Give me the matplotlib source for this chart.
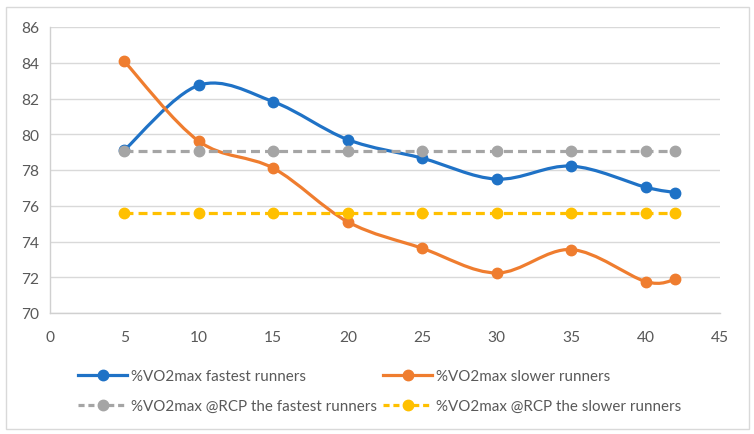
import matplotlib
matplotlib.use("Agg")
import matplotlib.pyplot as plt
from matplotlib.path import Path
from matplotlib.patches import PathPatch, Rectangle
from matplotlib.lines import Line2D
import numpy as np

plt.rcParams['font.family'] = ['Lato', 'DejaVu Sans']

# ---- data ----
distance_km = [5, 10, 15, 20, 25, 30, 35, 40, 42]
fastest = [79.12, 82.74, 81.82, 79.70, 78.66, 77.49, 78.22, 77.04, 76.74]
slower = [84.07, 79.61, 78.10, 75.10, 73.62, 72.24, 73.55, 71.76, 71.88]
rcp_fastest = [79.05] * 9
rcp_slower = [75.57] * 9
labels = ["%VO2max fastest runners", "%VO2max slower runners",
          "%VO2max @RCP the fastest runners", "%VO2max @RCP the slower runners"]
xticks = list(range(0, 50, 5))
yticks = list(range(70, 88, 2))

colors = ["#1f72c6", "#ef7d2f", "#a5a5a5", "#ffc000"]
LW = 2.3
MS = 7.5
DASH = (2.8, 1.6)

fig = plt.figure(figsize=(7.54, 4.35), dpi=100)
fig.patches.append(Rectangle((5.5 / 754, 1 - 429.5 / 435), 743.5 / 754, 422 / 435,
                             transform=fig.transFigure, fill=False,
                             edgecolor="#d9d9d9", linewidth=1.0))
ax = fig.add_axes([50 / 754, 1 - 314 / 435, 670 / 754, 286 / 435])
ax.set_xlim(0, 45)
ax.set_ylim(70, 86)
ax.set_xticks(xticks)
ax.set_yticks(yticks)
ax.tick_params(length=0, labelsize=11.2, colors="#595959")
ax.tick_params(axis='y', pad=8)
ax.tick_params(axis='x', pad=12)
ax.grid(axis='y', color="#d9d9d9", linewidth=1.0)
ax.set_axisbelow(True)
for s in ["top", "right"]:
    ax.spines[s].set_visible(False)
for s in ["left", "bottom"]:
    ax.spines[s].set_color("#d0d0d0")
    ax.spines[s].set_linewidth(1.0)


def smooth_path(xs, ys):
    pts = np.column_stack([xs, ys]).astype(float)
    n = len(pts)
    verts = [pts[0]]
    codes = [Path.MOVETO]
    for i in range(n - 1):
        p0 = pts[max(i - 1, 0)]
        p1 = pts[i]
        p2 = pts[i + 1]
        p3 = pts[min(i + 2, n - 1)]
        c1 = p1 + (p2 - p0) / 6.0
        c2 = p2 - (p3 - p1) / 6.0
        verts += [c1, c2, p2]
        codes += [Path.CURVE4] * 3
    return Path(verts, codes)


handles = []
for k, (ys, col) in enumerate(zip([fastest, slower], colors[:2])):
    patch = PathPatch(smooth_path(distance_km, ys), fill=False, edgecolor=col,
                      linewidth=LW, transform=ax.transData, zorder=3 + k,
                      capstyle='round', joinstyle='round')
    ax.add_patch(patch)
    ax.plot(distance_km, ys, 'o', color=col, markersize=MS, zorder=3 + k)
    handles.append(Line2D([], [], color=col, linewidth=LW, marker='o', markersize=MS))

for k, (ys, col) in enumerate(zip([rcp_fastest, rcp_slower], colors[2:])):
    ax.plot(distance_km, ys, color=col, linewidth=LW, dashes=DASH,
            marker='o', markersize=MS, zorder=5 + k)
    handles.append(Line2D([], [], color=col, linewidth=LW, dashes=(1.9, 1.2),
                          marker='o', markersize=MS))

# legend filled column-wise: reorder so rows read (0,1) and (2,3)
order = [0, 2, 1, 3]
leg = fig.legend([handles[i] for i in order], [labels[i] for i in order],
                 ncol=2, loc='upper left',
                 bbox_to_anchor=(78 / 754, 1 - 370 / 435),
                 frameon=False, fontsize=10.9, handlelength=3.25,
                 handletextpad=0.25, columnspacing=0.4, labelspacing=1.05,
                 borderaxespad=0, borderpad=0, numpoints=1)
for t in leg.get_texts():
    t.set_color("#595959")

fig.savefig("out.png", dpi=100)
